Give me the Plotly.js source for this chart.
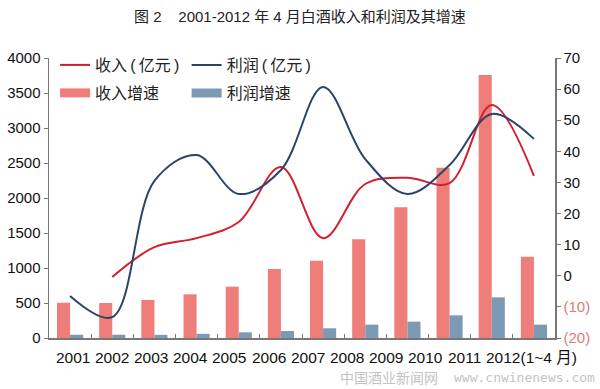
<!DOCTYPE html>
<html>
<head>
<meta charset="utf-8">
<script src="https://cdn.plot.ly/plotly-3.0.1.min.js"></script>
<style>html,body{margin:0;padding:0;background:#fff;}#chart{width:600px;height:389px;}</style>
</head>
<body>
<div id="chart"></div>
<script>
// Categories
var years = ['2001','2002','2003','2004','2005','2006','2007','2008','2009','2010','2011','2012(1~4 月)'];
// Bars (left axis, 亿元)
var revenueBars = [504, 500, 543, 624, 733, 986, 1105, 1410, 1867, 2433, 3757, 1162];
var profitBars = [47, 47, 45, 60, 81, 100, 139, 191, 234, 324, 581, 191];
// Lines (right axis, %)
var revenueLine = [null, -0.4, 9.2, 12.1, 17.3, 35, 12.1, 29.5, 31.5, 29.8, 54.9, 32.1];
var profitLine = [-6.5, -13.3, 30.5, 38.8, 26.3, 34, 60.7, 37.5, 26.3, 35.6, 52, 44];
// Legend labels
var labels = ['收入\u2009(\u2009亿元\u2009)', '利润\u2009(\u2009亿元\u2009)', '收入增速', '利润增速'];
// Right axis ticks
var rightTickVals = [-20, -10, 0, 10, 20, 30, 40, 50, 60, 70];
var rightTickText = ['<span style="color:#dd7d79">(20)</span>', '<span style="color:#dd7d79">(10)</span>', '0', '10', '20', '30', '40', '50', '60', '70'];

var cRedLine = '#d41f2f', cBlueLine = '#2d4468', cRedBar = '#ef7d79', cBlueBar = '#7c9ab4';
var font = 'Liberation Sans, Arial, "Noto Sans CJK SC", sans-serif';

var traces = [
  {type: 'bar', x: years, y: revenueBars, marker: {color: cRedBar}, showlegend: false, yaxis: 'y', hoverinfo: 'y'},
  {type: 'bar', x: years, y: profitBars, marker: {color: cBlueBar}, showlegend: false, yaxis: 'y', hoverinfo: 'y'},
  {type: 'scatter', mode: 'lines', x: years, y: revenueLine, yaxis: 'y2', name: labels[0], legend: 'legend',
   line: {color: cRedLine, width: 2, shape: 'spline', smoothing: 1}},
  {type: 'scatter', mode: 'lines', x: years, y: profitLine, yaxis: 'y2', name: labels[1], legend: 'legend2',
   line: {color: cBlueLine, width: 2, shape: 'spline', smoothing: 1}},
  {type: 'scatter', mode: 'lines', x: [years[0]], y: [null], yaxis: 'y2', name: labels[2], legend: 'legend3',
   line: {color: cRedBar, width: 9}},
  {type: 'scatter', mode: 'lines', x: [years[0]], y: [null], yaxis: 'y2', name: labels[3], legend: 'legend4',
   line: {color: cBlueBar, width: 9}}
];

function lg(x, y) {
  return {x: x, y: y, xanchor: 'left', yanchor: 'middle', bgcolor: 'rgba(0,0,0,0)',
          font: {family: font, size: 16, color: '#222'}, itemwidth: 30};
}

// x-axis labels: packed tightly as in the original (slight leftward drift), last one left-anchored
var xLabelAnns = years.map(function (y, i) {
  var last = i === years.length - 1;
  return {xref: 'x', yref: 'paper', x: i, y: -0.07, yanchor: 'middle', borderpad: 0,
          xanchor: last ? 'left' : 'center', xshift: last ? -49 : 2.5 - 2.95 * i,
          showarrow: false, text: y, font: {family: font, size: 15.5, color: '#111'}};
});

var layout = {
  width: 600, height: 389,
  margin: {l: 49, r: 45, t: 58, b: 51},
  paper_bgcolor: '#fff', plot_bgcolor: '#fff',
  font: {family: font, size: 15, color: '#222'},
  title: {text: '图 2    2001-2012 年 4 月白酒收入和利润及其增速', x: 0.5, xanchor: 'center', y: 0.956, yanchor: 'middle', yref: 'container',
          font: {family: font, size: 15, color: '#222'}},
  barmode: 'group', bargap: 0.38, bargroupgap: 0,
  xaxis: {type: 'category', range: [-0.5, years.length - 0.5], autorange: false, showgrid: false, showline: true, linecolor: '#777', linewidth: 1.5,
          ticks: 'inside', tickson: 'boundaries', ticklen: 4, tickcolor: '#777', showticklabels: false, zeroline: false},
  yaxis: {range: [0, 4000], dtick: 500, showgrid: false, zeroline: false, showline: true, linecolor: '#777', linewidth: 1.5,
          ticks: 'outside', ticklen: 4, tickcolor: '#777', tickfont: {family: font, size: 15, color: '#111'}},
  yaxis2: {range: [-20, 70], overlaying: 'y', side: 'right', showgrid: false, zeroline: false, showline: true,
           linecolor: '#777', linewidth: 1.5, ticks: 'outside', ticklen: 4, tickcolor: '#777',
           tickmode: 'array', tickvals: rightTickVals, ticktext: rightTickText,
           tickfont: {family: font, size: 15, color: '#111'}},
  legend: lg(0.012, 0.975),
  legend2: lg(0.272, 0.975),
  legend3: lg(0.012, 0.875),
  legend4: lg(0.272, 0.875),
  annotations: xLabelAnns.concat([
    {xref: 'paper', yref: 'paper', x: 0.573, y: -0.14, xanchor: 'left', yanchor: 'middle', showarrow: false, borderpad: 0,
     text: '中国酒业新闻网', font: {family: '"Noto Sans CJK SC", sans-serif', size: 14, color: '#c4c4c4'}},
    {xref: 'paper', yref: 'paper', x: 1.082, y: -0.14, xanchor: 'right', yanchor: 'middle', showarrow: false, borderpad: 0,
     text: 'www.cnwinenews.com', font: {family: '"DejaVu Sans Mono", monospace', size: 13, color: '#c4c4c4'}}
  ])
};

Plotly.newPlot('chart', traces, layout, {displayModeBar: false, staticPlot: true});
</script>
</body>
</html>
